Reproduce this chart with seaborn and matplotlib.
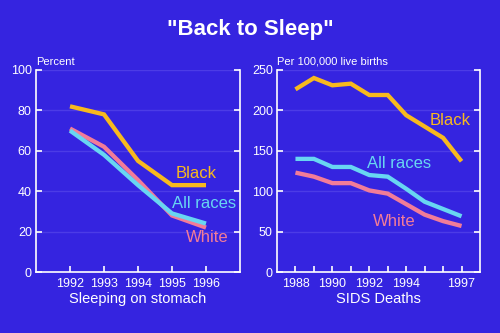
import matplotlib
matplotlib.use("Agg")
import matplotlib.pyplot as plt
import seaborn as sns
import pandas as pd

# ---- data ----
groups = ["White", "All races", "Black"]
colors = {"Black": "#f8b91e", "All races": "#68d6f2", "White": "#f27c98"}

stomach_years = [1992, 1993, 1994, 1995, 1996]
stomach_black = [82, 78, 55, 43, 43]
stomach_all = [70, 58, 43, 29, 24]
stomach_white = [71, 62, 45.5, 28, 22]

sids_years = [1988, 1989, 1990, 1991, 1992, 1993, 1994, 1995, 1996, 1997]
sids_black = [226, 240, 231, 233, 219, 219, 194, 180, 166, 137]
sids_all = [140, 140, 130, 130, 120, 118, 103, 87, 78, 69]
sids_white = [123, 118, 110, 110, 101, 97, 84, 71, 63, 57]

sids_tick_labels = {1988: "1988", 1990: "1990", 1992: "1992", 1994: "1994", 1997: "1997"}

label_pos_left = {"Black": (1995.7, 49), "All races": (1995.95, 34), "White": (1996.05, 17)}
label_pos_right = {"Black": (1996.4, 187), "All races": (1993.6, 134), "White": (1993.35, 62)}

BG = "#3524e0"
GRID = "#4c3ce6"
FG = "white"

sns.set_theme(style="white")
plt.rcParams["font.family"] = ["Liberation Sans", "DejaVu Sans"]

def long_df(years, series):
    rows = []
    for g in groups:
        for y, v in zip(years, series[g]):
            rows.append({"year": y, "value": v, "group": g})
    return pd.DataFrame(rows)

df_left = long_df(stomach_years, {"Black": stomach_black, "All races": stomach_all, "White": stomach_white})
df_right = long_df(sids_years, {"Black": sids_black, "All races": sids_all, "White": sids_white})

fig = plt.figure(figsize=(5, 3.33), dpi=100, facecolor=BG)
axL = fig.add_axes([0.072, 0.183, 0.408, 0.607])
axR = fig.add_axes([0.554, 0.183, 0.406, 0.607])

def style(ax, ymax, ystep):
    ax.set_facecolor(BG)
    for s in ["left", "right", "bottom"]:
        ax.spines[s].set_visible(True)
        ax.spines[s].set_color(FG)
        ax.spines[s].set_linewidth(1.2)
    ax.spines["top"].set_visible(False)
    ax.set_ylim(0, ymax)
    ax.set_yticks(range(0, ymax + 1, ystep))
    for v in range(ystep, ymax + 1, ystep):
        ax.axhline(v, color=GRID, lw=1.0, zorder=0)
    ax.tick_params(axis="y", which="both", direction="in", left=True, right=True,
                   length=4, width=1.2, color=FG, labelcolor=FG, labelsize=9, pad=3)
    ax.tick_params(axis="x", direction="in", bottom=True, length=4, width=1.2,
                   color=FG, labelcolor=FG, labelsize=9, pad=4)
    ax.set_ylabel("")

for ax, df in [(axL, df_left), (axR, df_right)]:
    sns.lineplot(data=df, x="year", y="value", hue="group", hue_order=groups,
                 palette=colors, lw=3.1, legend=False, ax=ax, zorder=3,
                 solid_capstyle="butt", solid_joinstyle="miter")

style(axL, 100, 20)
axL.set_xlim(1991, 1997)
axL.set_xticks(stomach_years)
axL.set_xticklabels([str(y) for y in stomach_years])
axL.set_xlabel("Sleeping on stomach", color=FG, fontsize=10.5, labelpad=2)
axL.text(0, 1.015, "Percent", transform=axL.transAxes, color=FG, fontsize=8,
         ha="left", va="bottom")

style(axR, 250, 50)
axR.set_xlim(1987, 1998)
axR.set_xticks(sids_years)
axR.set_xticklabels([sids_tick_labels.get(y, "") for y in sids_years])
axR.set_xlabel("SIDS Deaths", color=FG, fontsize=10.5, labelpad=2)
axR.text(0, 1.015, "Per 100,000 live births", transform=axR.transAxes, color=FG,
         fontsize=8, ha="left", va="bottom")

for ax, pos in [(axL, label_pos_left), (axR, label_pos_right)]:
    for g, (x, y) in pos.items():
        ax.text(x, y, g, color=colors[g], fontsize=12, ha="center", va="center", zorder=4)

fig.text(0.5, 0.912, "\"Back to Sleep\"", color=FG, fontsize=16, fontweight="bold",
         ha="center", va="center")

fig.savefig("out.png", dpi=100, facecolor=BG)
